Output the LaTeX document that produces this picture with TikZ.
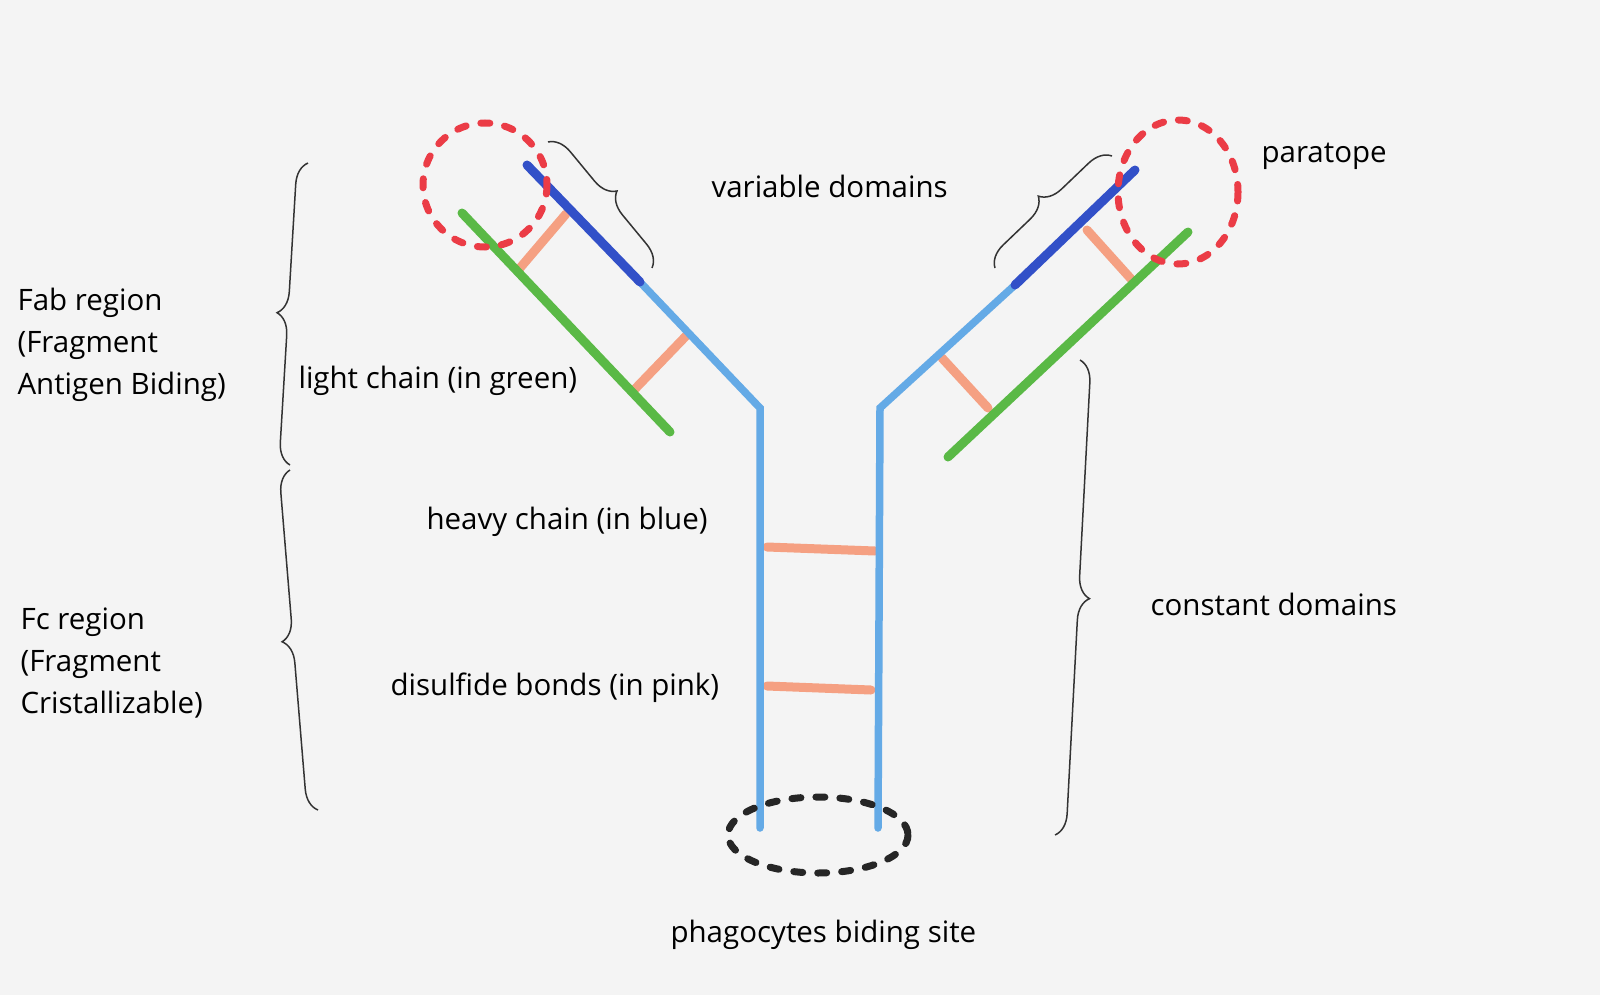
\documentclass[tikz,border=0pt]{standalone}
\usepackage{fontspec}
\setmainfont{Open Sans}
\usetikzlibrary{decorations.pathreplacing}
\definecolor{hblue}{RGB}{100,170,230}
\definecolor{dblue}{RGB}{50,80,200}
\definecolor{lgreen}{RGB}{90,185,70}
\definecolor{pinkb}{RGB}{245,160,130}
\definecolor{redd}{RGB}{235,60,70}
\definecolor{bg}{RGB}{244,244,244}
\begin{document}
\begin{tikzpicture}[x=1pt,y=-1pt,
  heavy/.style={hblue,line width=7.5pt,line cap=round},
  varh/.style={dblue,line width=9pt,line cap=round},
  light/.style={lgreen,line width=9pt,line cap=round},
  bond/.style={pinkb,line width=9pt,line cap=round},
  rdash/.style={redd,line width=7pt,dash pattern=on 9pt off 15pt,line cap=round},
  kdash/.style={black!85,line width=7pt,dash pattern=on 9pt off 15pt,line cap=round},
  brc/.style={black!80,line width=1.5pt,decorate,decoration={brace,amplitude=22pt}},
  lbl/.style={font=\fontsize{29.5}{42}\selectfont,align=left,anchor=west}]
\fill[bg] (0,0) rectangle (1600,995);
\useasboundingbox (0,0) rectangle (1600,995);
% bonds
\draw[bond] (520,268) -- (566,214);
\draw[bond] (634,390) -- (686,336);
\draw[bond] (942,358) -- (988,408);
\draw[bond] (1087,230) -- (1132,280);
\draw[bond] (767,547) -- (875,551);
\draw[bond] (767,686) -- (871,690);
% heavy chains
\coordinate (lb) at (760,828); \coordinate (lk) at (760,408); \coordinate (la) at (640,282); \coordinate (lt) at (527,165);
\coordinate (rb) at (878,828); \coordinate (rk) at (880,408); \coordinate (ra) at (1015,285); \coordinate (rt) at (1135,170);
\draw[heavy] (lb) -- (lk) -- (la);
\draw[varh] (la) -- (lt);
\draw[heavy] (rb) -- (rk) -- (ra);
\draw[varh] (ra) -- (rt);
% light chains
\coordinate (lg1) at (462,213); \coordinate (lg2) at (670,432);
\coordinate (rg1) at (948,457); \coordinate (rg2) at (1188,232);
\draw[light] (lg1) -- (lg2);
\draw[light] (rg1) -- (rg2);
% dashed circles
\draw[rdash] (485,185) circle (62);
\draw[rdash] (1178,192) ellipse (60 and 72);
\draw[kdash] (818,835) ellipse (90 and 38);
% braces
\draw[brc] (290,465) -- (308,163);
\draw[brc] (318,810) -- (290,470);
\draw[brc] (1080,360) -- (1055,835);
\draw[brc] (548,142) -- (652,268);
\draw[brc] (995,268) -- (1112,156);
% labels
\node[lbl] (t1) at (708,186) {variable domains};
\node[lbl] (t2) at (1258,156) {paratope};
\node[lbl] (t3) at (14,345) {Fab region\\(Fragment\\Antigen Biding)};
\node[lbl] (t4) at (295,381) {light chain (in green)};
\node[lbl] (t5) at (423,522) {heavy chain (in blue)};
\node[lbl] (t6) at (1147,604) {constant domains};
\node[lbl] (t7) at (17,663) {Fc region\\(Fragment\\Cristallizable)};
\node[lbl] (t8) at (387,688) {disulfide bonds (in pink)};
\node[lbl] (t9) at (667,935) {phagocytes biding site};
\end{tikzpicture}
\end{document}
